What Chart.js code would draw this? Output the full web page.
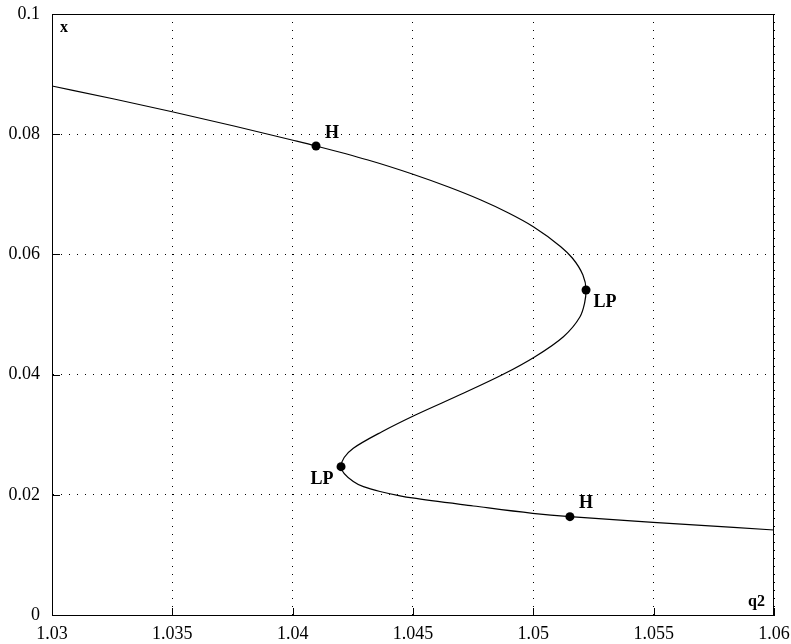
<!DOCTYPE html>
<html>
<head>
<meta charset="utf-8">
<script src="https://cdn.jsdelivr.net/npm/chart.js@4.4.1/dist/chart.umd.min.js"></script>
<style>
  html, body { margin: 0; padding: 0; background: #fff; }
  #wrap { width: 791px; height: 644px; }
</style>
</head>
<body>
<div id="wrap"><canvas id="bifChart" width="791" height="644"></canvas></div>
<script>
// Continuation curve, ordered by the state x (vertical axis) from bottom to top,
// with the parameter q2 on the horizontal axis
const curveX = [0.01414, 0.01542, 0.01636, 0.01692, 0.01814, 0.01948, 0.01983, 0.02055,
                0.02135, 0.02221, 0.02468, 0.02621, 0.02774, 0.03050, 0.03328, 0.03689,
                0.04005, 0.04298, 0.04631, 0.04963, 0.05191, 0.05408, 0.05657, 0.05940,
                0.06128, 0.06461, 0.06689, 0.06905, 0.07121, 0.07338, 0.07571, 0.07804,
                0.07903, 0.08136, 0.08374, 0.08586, 0.08802];
const curveQ2 = [1.06000, 1.05498, 1.05152, 1.04997, 1.04751, 1.04497, 1.04446, 1.04363,
                 1.04294, 1.04252, 1.04201, 1.04214, 1.04252, 1.04371, 1.04510, 1.04709,
                 1.04875, 1.05007, 1.05125, 1.05194, 1.05213, 1.05219, 1.05206, 1.05162,
                 1.05114, 1.05000, 1.04897, 1.04782, 1.04648, 1.04497, 1.04313, 1.04097,
                 1.03997, 1.03756, 1.03499, 1.03258, 1.03000];

// Special points found along the curve
const pointLabels = ['H', 'LP', 'LP', 'H'];
const pointQ2 = [1.04097, 1.05219, 1.04201, 1.05152];
const pointX = [0.07804, 0.05408, 0.02468, 0.01636];

// Axis ticks
const q2Ticks = [1.03, 1.035, 1.04, 1.045, 1.05, 1.055, 1.06];
const xTicks = [0, 0.02, 0.04, 0.06, 0.08, 0.1];

const SERIF = "'Liberation Serif', 'Times New Roman', serif";

// label placement relative to each point (pixels)
const labelOffsets = [[16, -13], [19, 12], [-19, 13], [16, -13]];

const framePlugin = {
  id: 'frame',
  afterDraw(chart) {
    const { ctx, chartArea: a, scales } = chart;
    ctx.save();
    // plot frame
    ctx.strokeStyle = '#000';
    ctx.lineWidth = 1;
    ctx.strokeRect(a.left + 0.5, a.top + 0.5, a.right - a.left - 1, a.bottom - a.top);

    // inward tick marks
    ctx.beginPath();
    q2Ticks.forEach((v) => {
      const px = Math.round(scales.x.getPixelForValue(v)) + 0.5;
      ctx.moveTo(px, a.bottom);
      ctx.lineTo(px, a.bottom - 7);
    });
    xTicks.forEach((v) => {
      const py = Math.round(scales.y.getPixelForValue(v)) + 0.5;
      ctx.moveTo(a.left, py);
      ctx.lineTo(a.left + 8, py);
    });
    ctx.stroke();

    // axis names inside the plot
    ctx.fillStyle = '#000';
    ctx.font = `bold 16px ${SERIF}`;
    ctx.textAlign = 'left';
    ctx.textBaseline = 'alphabetic';
    ctx.fillText('x', a.left + 8, a.top + 18);
    ctx.textAlign = 'right';
    ctx.fillText('q2', a.right - 9, a.bottom - 9);

    // special point labels
    ctx.font = `bold 18px ${SERIF}`;
    ctx.textAlign = 'center';
    ctx.textBaseline = 'middle';
    pointLabels.forEach((lbl, i) => {
      const px = scales.x.getPixelForValue(pointQ2[i]);
      const py = scales.y.getPixelForValue(pointX[i]);
      ctx.fillText(lbl, px + labelOffsets[i][0], py + labelOffsets[i][1]);
    });
    ctx.restore();
  },
};

const ctx = document.getElementById('bifChart');

new Chart(ctx, {
  type: 'line',
  data: {
    datasets: [
      {
        label: 'branch',
        data: curveX.map((v, i) => ({ x: curveQ2[i], y: v })),
        borderColor: '#000',
        borderWidth: 1.2,
        cubicInterpolationMode: 'monotone',
        pointRadius: 0,
        fill: false,
      },
      {
        label: 'special points',
        data: pointQ2.map((q, i) => ({ x: q, y: pointX[i] })),
        showLine: false,
        pointRadius: 4.5,
        pointBackgroundColor: '#000',
        pointBorderColor: '#000',
        pointBorderWidth: 0,
      },
    ],
  },
  options: {
    indexAxis: 'y',
    responsive: false,
    animation: false,
    events: [],
    layout: {
      padding: { top: 14, right: 17, left: 0, bottom: 0 },
    },
    plugins: {
      legend: { display: false },
      tooltip: { enabled: false },
    },
    scales: {
      x: {
        type: 'linear',
        position: 'bottom',
        min: 1.03,
        max: 1.06,
        afterBuildTicks: (scale) => {
          scale.ticks = q2Ticks.map((v) => ({ value: v }));
        },
        afterFit: (scale) => {
          scale.height = 29;
          scale.paddingLeft = 0;
          scale.paddingRight = 0;
        },
        ticks: {
          color: '#000',
          padding: 8,
          maxRotation: 0,
          font: { family: SERIF, size: 18 },
          callback: (value) => String(+value.toFixed(3)),
        },
        grid: {
          color: '#000',
          lineWidth: 1,
          drawTicks: false,
        },
        border: {
          display: true,
          color: '#000',
          dash: [1, 7],
        },
      },
      y: {
        type: 'linear',
        position: 'left',
        min: 0,
        max: 0.1,
        afterBuildTicks: (scale) => {
          scale.ticks = xTicks.map((v) => ({ value: v }));
        },
        afterFit: (scale) => {
          scale.width = 52;
          scale.paddingTop = 0;
          scale.paddingBottom = 0;
        },
        ticks: {
          color: '#000',
          padding: 12,
          font: { family: SERIF, size: 18 },
          callback: (value) => String(+value.toFixed(2)),
        },
        grid: {
          color: '#000',
          lineWidth: 1,
          drawTicks: false,
        },
        border: {
          display: true,
          color: '#000',
          dash: [1, 7],
        },
      },
    },
  },
  plugins: [framePlugin],
});
</script>
</body>
</html>
